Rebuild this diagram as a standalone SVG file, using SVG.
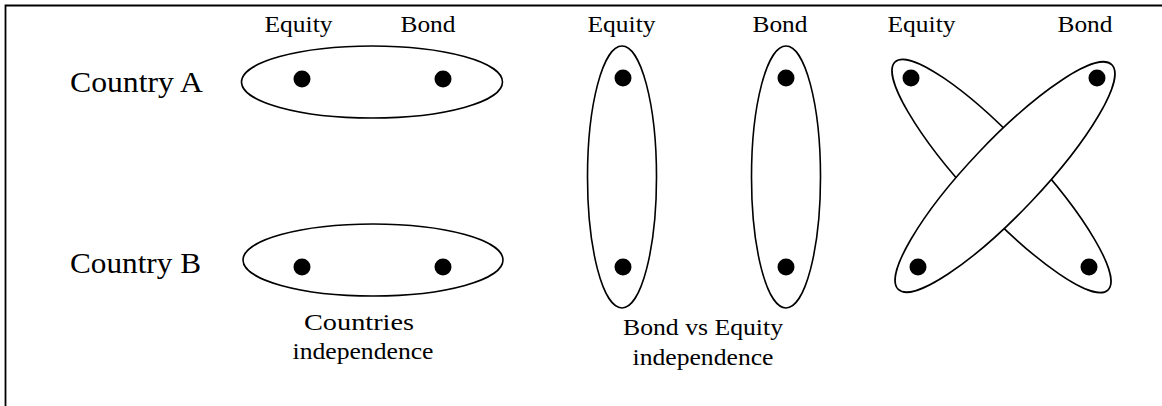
<svg xmlns="http://www.w3.org/2000/svg" width="1162" height="406" viewBox="0 0 1162 406">
<style>
text{font-family:"Liberation Serif","Times New Roman",serif;fill:#000}
.lbl{font-size:24px;text-anchor:middle}
.row{font-size:30px}
.cap{font-size:24px;text-anchor:middle}
.ring{fill:#fff;stroke:#000;stroke-width:1.6}
.dot{fill:#000}
</style>
<rect width="1162" height="406" fill="#fff"/>
<path d="M5.5,406 V5.5 H1162" fill="none" stroke="#000" stroke-width="1.8"/>
<g id="headers">
<text class="lbl" x="298.5" y="32" textLength="68" lengthAdjust="spacingAndGlyphs">Equity</text>
<text class="lbl" x="428" y="32" textLength="55" lengthAdjust="spacingAndGlyphs">Bond</text>
<text class="lbl" x="621.5" y="32" textLength="68" lengthAdjust="spacingAndGlyphs">Equity</text>
<text class="lbl" x="780" y="32" textLength="55" lengthAdjust="spacingAndGlyphs">Bond</text>
<text class="lbl" x="921.5" y="32" textLength="68" lengthAdjust="spacingAndGlyphs">Equity</text>
<text class="lbl" x="1085" y="32" textLength="55" lengthAdjust="spacingAndGlyphs">Bond</text>
</g>
<g id="row-labels">
<text class="row" x="70" y="92" textLength="133" lengthAdjust="spacingAndGlyphs">Country A</text>
<text class="row" x="70" y="273" textLength="131" lengthAdjust="spacingAndGlyphs">Country B</text>
</g>
<g id="countries-independence">
<ellipse class="ring" cx="372" cy="82" rx="130.5" ry="36"/>
<ellipse class="ring" cx="373" cy="260" rx="130" ry="36"/>
<circle class="dot" cx="302" cy="79" r="8.5"/>
<circle class="dot" cx="443" cy="79" r="8.5"/>
<circle class="dot" cx="302" cy="267" r="8.5"/>
<circle class="dot" cx="443" cy="267" r="8.5"/>
<text class="cap" x="359" y="330" textLength="110" lengthAdjust="spacingAndGlyphs">Countries</text>
<text class="cap" x="363" y="359" textLength="141" lengthAdjust="spacingAndGlyphs">independence</text>
</g>
<g id="bond-equity-independence">
<ellipse class="ring" cx="622" cy="177" rx="34.5" ry="131"/>
<ellipse class="ring" cx="786" cy="177" rx="34.5" ry="131"/>
<circle class="dot" cx="623" cy="78" r="8.5"/>
<circle class="dot" cx="623" cy="267" r="8.5"/>
<circle class="dot" cx="786" cy="78" r="8.5"/>
<circle class="dot" cx="786" cy="267" r="8.5"/>
<text class="cap" x="703" y="335" textLength="160" lengthAdjust="spacingAndGlyphs">Bond vs Equity</text>
<text class="cap" x="703" y="365" textLength="141" lengthAdjust="spacingAndGlyphs">independence</text>
</g>
<g id="cross-dependence">
<ellipse class="ring" cx="1001.5" cy="176" rx="156" ry="35" transform="rotate(47 1001.5 176)"/>
<ellipse class="ring" cx="1005" cy="177" rx="155" ry="36" transform="rotate(-46.5 1005 177)"/>
<circle class="dot" cx="911" cy="78" r="8.5"/>
<circle class="dot" cx="1097" cy="78" r="8.5"/>
<circle class="dot" cx="918" cy="267" r="8.5"/>
<circle class="dot" cx="1089" cy="267" r="8.5"/>
</g>
</svg>
